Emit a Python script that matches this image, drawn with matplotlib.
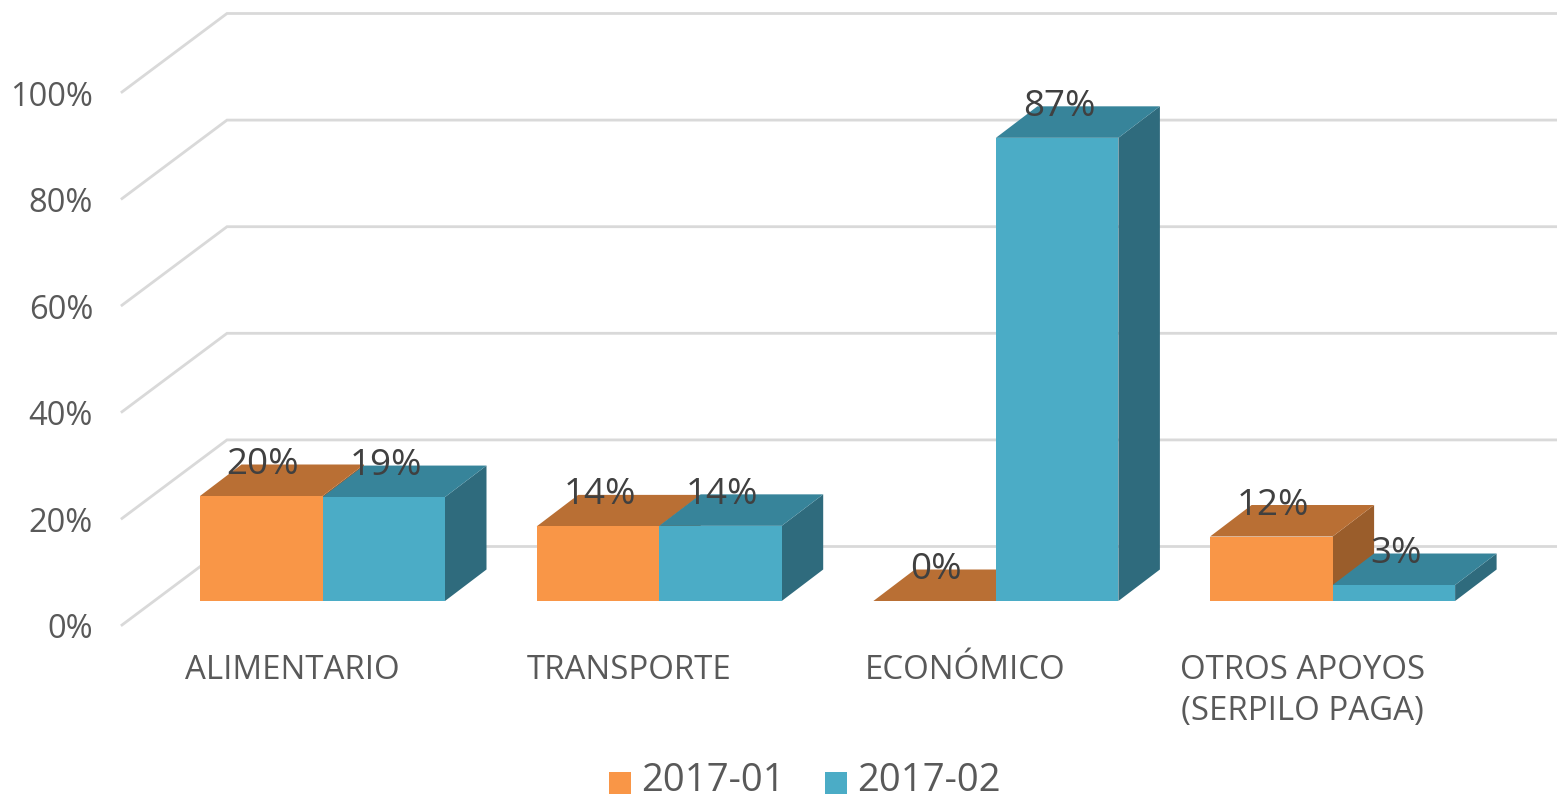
import matplotlib
matplotlib.use("Agg")
import matplotlib.pyplot as plt
from matplotlib.patches import Polygon, Rectangle

categories = ["ALIMENTARIO", "TRANSPORTE", "ECONÓMICO", "OTROS APOYOS\n(SERPILO PAGA)"]
series_names = ["2017-01", "2017-02"]
values_01 = [19.7, 14, 0, 12.1]
values_02 = [19.5, 14.1, 86.9, 3.0]
labels_01 = ["20%", "14%", "0%", "12%"]
labels_02 = ["19%", "14%", "87%", "3%"]
y_ticks = [0, 20, 40, 60, 80, 100]

W, H = 1557, 799
PX_X = 336.7   # pixels per category
PX_Y = 5.33    # pixels per percent

fig = plt.figure(figsize=(W / 100, H / 100), dpi=100)
ax = fig.add_axes([0, 0, 1, 1])
ax.set_xlim(-322.5 / PX_X, (W - 322.5) / PX_X)
ax.set_ylim(-(H - 601) / PX_Y, 601 / PX_Y)
ax.axis("off")

plt.rcParams["font.family"] = ["Open Sans", "DejaVu Sans"]
text_col = "#595959"
label_col = "#404040"

# fake 3d offsets, in data units
bar_w = 122.5 / PX_X
bar_dx = 41.5 / PX_X
bar_dy = 31.5 / PX_Y
floor_x0 = (122 - 322.5) / PX_X
floor_dx = 105 / PX_X
floor_y0 = -24 / PX_Y
floor_dy = 78.5 / PX_Y
right_x = (W - 322.5) / PX_X


def draw_bar(x, val, front, top, side):
    x1 = x + bar_w
    ax.add_patch(Polygon([(x1, 0), (x1 + bar_dx, bar_dy), (x1 + bar_dx, val + bar_dy), (x1, val)],
                         color=side, lw=0, zorder=3))
    ax.add_patch(Polygon([(x, val), (x + bar_dx, val + bar_dy), (x1 + bar_dx, val + bar_dy), (x1, val)],
                         color=top, lw=0, zorder=3))
    ax.add_patch(Rectangle((x, 0), bar_w, val, color=front, lw=0, zorder=4))


# gridlines: wall + slanted bit on the left
for t in y_ticks:
    ax.plot([floor_x0, floor_x0 + floor_dx, right_x],
            [t + floor_y0, t + floor_y0 + floor_dy, t + floor_y0 + floor_dy],
            color="#d9d9d9", lw=2, zorder=1, solid_joinstyle="miter")
    ax.text((93 - 322.5) / PX_X, t + floor_y0 - 5 / PX_Y, f"{t}%", ha="right", va="center",
            fontsize=23.5, color=text_col)

for i in range(len(categories)):
    draw_bar(i - bar_w, values_01[i], "#f99647", "#b96f34", "#9a5d2b")
    draw_bar(i, values_02[i], "#4bacc6", "#37849a", "#2f6b7d")
    ax.text(i - bar_w + 63 / PX_X, values_01[i] + 31 / PX_Y, labels_01[i], ha="center", va="center",
            fontsize=26.5, color=label_col, zorder=5)
    ax.text(i + 63 / PX_X, values_02[i] + 31 / PX_Y, labels_02[i], ha="center", va="center",
            fontsize=26.5, color=label_col, zorder=5)
    ax.text(i - 30.5 / PX_X, -(654 - 601) / PX_Y, categories[i], ha="center", va="top",
            fontsize=23.8, color=text_col, linespacing=1.33)

# legend
ax.add_patch(Rectangle(((609 - 322.5) / PX_X, -(794 - 601) / PX_Y), 22 / PX_X, 22 / PX_Y,
                       color="#f99647", lw=0))
ax.text((641 - 322.5) / PX_X, -(781 - 601) / PX_Y, series_names[0], ha="left", va="center",
        fontsize=27.5, color=text_col)
ax.add_patch(Rectangle(((825 - 322.5) / PX_X, -(794 - 601) / PX_Y), 22 / PX_X, 22 / PX_Y,
                       color="#4bacc6", lw=0))
ax.text((857 - 322.5) / PX_X, -(781 - 601) / PX_Y, series_names[1], ha="left", va="center",
        fontsize=27.5, color=text_col)

fig.savefig("out.png", dpi=100)
